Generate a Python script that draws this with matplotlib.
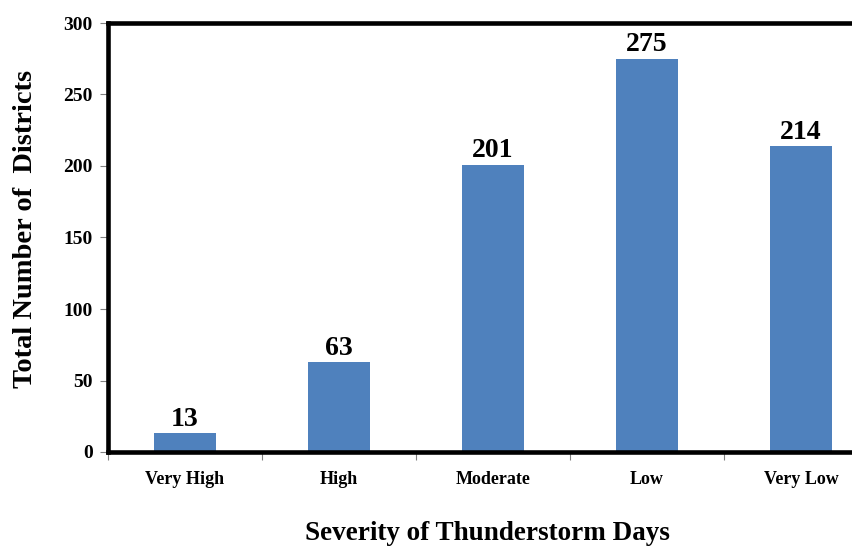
import matplotlib
matplotlib.use('Agg')
import matplotlib.pyplot as plt
import numpy as np

categories = ['Very High', 'High', 'Moderate', 'Low', 'Very Low']
districts = [13, 63, 201, 275, 214]
yticks = [0, 50, 100, 150, 200, 250, 300]

plt.rcParams['font.family'] = ['Liberation Serif', 'DejaVu Serif']
plt.rcParams['font.weight'] = 'bold'

W, H = 853, 548
fig = plt.figure(figsize=(W / 100, H / 100), dpi=100)
# axes runs past the right edge of the figure, like the cropped original
left, bottom, top = 108, 452, 23
ax = fig.add_axes([left / W, (H - bottom) / H, 770 / W, (bottom - top) / H])

x = np.arange(len(categories))
ax.bar(x, districts, width=0.4, color='#4F81BD', zorder=2)

for xi, v in zip(x, districts):
    ax.annotate(str(v), (xi, v), textcoords='offset points', xytext=(0, 1),
                ha='center', va='bottom', fontsize=20, fontweight='bold')

ax.set_xlim(-0.5, len(categories) - 0.5)
ax.set_ylim(0, 300)
ax.set_yticks(yticks)
ax.set_xticks(x)
ax.set_xticklabels(categories)
ax.set_xticks(np.arange(len(categories)) - 0.5, minor=True)

ax.tick_params(axis='y', labelsize=14, length=6, width=0.8, color='gray', pad=5)
ax.tick_params(axis='x', which='major', labelsize=13, length=0, pad=14)
ax.tick_params(axis='x', which='minor', length=6, width=0.8, color='gray')

for name in ['left', 'top', 'bottom']:
    ax.spines[name].set_linewidth(3.3)
    ax.spines[name].set_color('black')
ax.spines['right'].set_visible(False)

ax.set_ylabel('Total Number of  Districts', fontsize=20.5, fontweight='bold')
ax.yaxis.set_label_coords(-(108 - 38) / 770, (452 - 229) / (bottom - top))
ax.set_xlabel('Severity of Thunderstorm Days', fontsize=19.5, fontweight='bold')
ax.xaxis.set_label_coords((487 - left) / 770, -(521 - bottom) / (bottom - top))

fig.savefig('out.png', dpi=100)
